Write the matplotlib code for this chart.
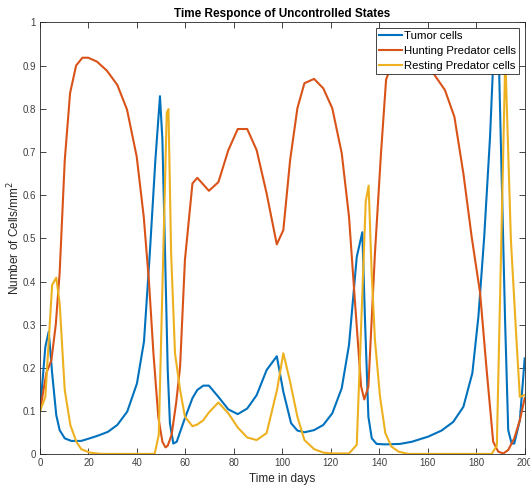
import matplotlib
matplotlib.use("Agg")
import matplotlib.pyplot as plt

plt.rcParams['font.family'] = ['Liberation Sans', 'DejaVu Sans']

# tumor cells
t_tumor = [0, 2.2, 3.6, 5, 6.7, 8.1, 10.2, 12.9, 17, 20.5, 23.8, 28, 31.9, 36, 40,
           42.9, 45.3, 47.6, 49.5, 50.5, 51.6, 52.7, 53.6, 55, 56.4, 59.5, 62.9,
           64.9, 67.4, 69.7, 73.6, 77.7, 81.6, 85.5, 89.4, 93.5, 97.7, 100.4,
           103.6, 106.2, 109.1, 113.1, 116.9, 120.6, 124.5, 127.5, 130.7, 133,
           134.1, 135.5, 136.9, 138.9, 142.3, 148.5, 153.4, 160.2, 165.7, 170.5,
           174.7, 178.4, 180.9, 183.3, 185.7, 186.8, 188.3, 189.5, 190.2, 191.9,
           193.2, 194.6, 195.7, 198, 200]
tumor = [0.1, 0.249, 0.284, 0.188, 0.091, 0.056, 0.037, 0.031, 0.031, 0.037, 0.043,
         0.052, 0.068, 0.099, 0.164, 0.261, 0.465, 0.681, 0.829, 0.728, 0.465,
         0.195, 0.072, 0.025, 0.029, 0.079, 0.13, 0.149, 0.159, 0.159, 0.133,
         0.104, 0.093, 0.106, 0.137, 0.195, 0.227, 0.145, 0.072, 0.055, 0.051,
         0.056, 0.068, 0.095, 0.153, 0.253, 0.457, 0.514, 0.311, 0.087, 0.037,
         0.024, 0.023, 0.024, 0.029, 0.041, 0.055, 0.075, 0.11, 0.188, 0.319,
         0.504, 0.735, 0.88, 0.96, 0.876, 0.712, 0.311, 0.056, 0.025, 0.025,
         0.079, 0.222]

# hunting predator cells
t_hunt = [0, 2.6, 4.7, 6.5, 8.1, 10.2, 12.4, 14.9, 17.5, 19.9, 23.5, 27.6, 31.9,
          35.9, 39.9, 42.8, 45, 46.8, 48.8, 50.5, 51.8, 52.7, 54.3, 56.2, 57.8,
          59.8, 62.9, 64.9, 69.7, 73.6, 77.7, 81.6, 85.5, 89.4, 93.5, 97.7, 100.4,
          103.2, 106.2, 109.1, 113.1, 116.9, 120.6, 124.5, 127.5, 130, 132.5,
          133.8, 135.5, 138.2, 140.7, 142.8, 145.5, 149, 153, 157.5, 162.3, 167.1,
          171, 174.7, 178.1, 181.6, 184.3, 187, 189.1, 191.2, 193.2, 195.7, 198, 200]
hunting = [0.1, 0.188, 0.218, 0.3, 0.42, 0.68, 0.836, 0.9, 0.918, 0.918, 0.909,
           0.888, 0.855, 0.798, 0.689, 0.55, 0.396, 0.234, 0.087, 0.029, 0.016,
           0.02, 0.045, 0.12, 0.203, 0.45, 0.627, 0.64, 0.61, 0.63, 0.704, 0.753,
           0.753, 0.704, 0.604, 0.486, 0.519, 0.681, 0.801, 0.859, 0.869, 0.847,
           0.801, 0.697, 0.55, 0.35, 0.157, 0.127, 0.157, 0.465, 0.697, 0.867,
           0.91, 0.925, 0.925, 0.915, 0.882, 0.843, 0.781, 0.65, 0.504, 0.373,
           0.195, 0.029, 0.006, 0.002, 0.01, 0.037, 0.079, 0.13]

# resting predator cells
t_rest = [0, 2.2, 5, 6.7, 8.1, 10.2, 12.5, 15, 17, 20.5, 25, 47.3, 49, 52.3, 53,
          54.1, 55.7, 57.8, 59.8, 62.9, 64.9, 67.4, 69.7, 73.6, 77.7, 81.6, 85.5,
          89.4, 93.5, 97.8, 100.4, 103.2, 106.2, 109.1, 113.1, 116.9, 120.6,
          127.5, 130.7, 134.4, 135.6, 136.8, 138.2, 140.3, 142.5, 145, 148, 152,
          186.4, 188.5, 192, 194.3, 196.6, 198, 200]
resting = [0.1, 0.133, 0.392, 0.409, 0.35, 0.149, 0.068, 0.029, 0.012, 0.004,
           0.001, 0.001, 0.045, 0.791, 0.799, 0.465, 0.234, 0.149, 0.087, 0.065,
           0.069, 0.079, 0.097, 0.12, 0.095, 0.062, 0.039, 0.033, 0.049, 0.149,
           0.234, 0.168, 0.087, 0.033, 0.012, 0.004, 0.002, 0.002, 0.022, 0.585,
           0.622, 0.427, 0.265, 0.133, 0.049, 0.018, 0.006, 0.001, 0.001, 0.02,
           0.92, 0.497, 0.265, 0.133, 0.137]

fig = plt.figure(figsize=(5.3, 4.86), dpi=100)
ax = fig.add_axes([0.0755, 0.0652, 0.9145, 0.8889])

ax.plot(t_tumor, tumor, color='#0072BD', lw=1.5, label='Tumor cells')
ax.plot(t_hunt, hunting, color='#D95319', lw=1.5, label='Hunting Predator cells')
ax.plot(t_rest, resting, color='#EDB120', lw=1.5, label='Resting Predator cells')

ax.set_xlim(0, 200)
ax.set_ylim(0, 1)
ax.set_xticks(range(0, 201, 20))
ax.set_yticks([i / 10 for i in range(11)])
ax.set_yticklabels(['0', '0.1', '0.2', '0.3', '0.4', '0.5', '0.6', '0.7', '0.8', '0.9', '1'])

# matlab-like box and inward ticks
for s in ax.spines.values():
    s.set_color('#262626')
    s.set_linewidth(0.6)
ax.tick_params(direction='in', length=4, width=0.6, colors='#262626',
               labelsize=7, top=True, right=True, pad=3)
for lab in ax.get_xticklabels() + ax.get_yticklabels():
    lab.set_color('#404040')

ax.set_xlabel('Time in days', fontsize=8.5, color='#262626')
ax.set_ylabel('Number of Cells/mm$^2$', fontsize=8.5, color='#262626')
ax.xaxis.set_label_coords(0.5, -0.043)
ax.yaxis.set_label_coords(-0.037, 0.5)
ax.set_title('Time Responce of Uncontrolled States', fontsize=8.5,
             fontweight='bold', color='#000000', pad=3.5)

leg = ax.legend(loc='upper right', fontsize=8.2, handlelength=2.1, handletextpad=0.15,
                borderpad=0.25, labelspacing=0.45, borderaxespad=0.5,
                fancybox=False, framealpha=1)
leg.get_frame().set_edgecolor('#262626')
leg.get_frame().set_linewidth(0.6)

fig.savefig('out.png', dpi=100)
